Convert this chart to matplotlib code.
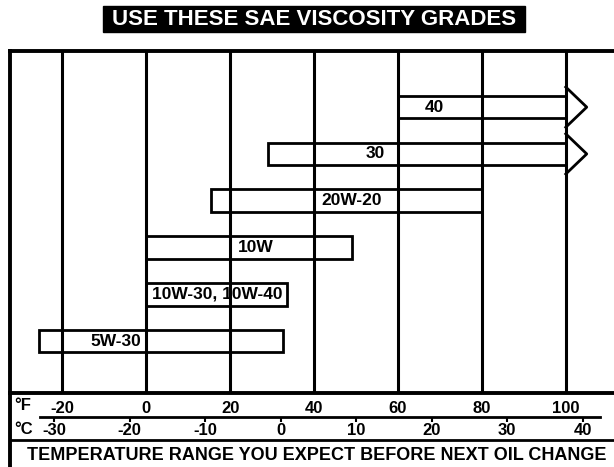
import matplotlib.pyplot as plt
from matplotlib.patches import Rectangle

plt.rcParams['font.family'] = ['Liberation Sans', 'DejaVu Sans']
plt.rcParams['font.weight'] = 'bold'
plt.rcParams['axes.unicode_minus'] = False

# viscosity grades, bottom to top, with the temperature span in deg F
grades = ['5W-30', '10W-30, 10W-40', '10W', '20W-20', '30', '40']
low_f = [-25.5, 0, 0, 15.5, 29, 60]
high_f = [32.5, 33.5, 49, 80, 100, 100]
open_end = [False, False, False, False, True, True]
label_f = [-7.2, 17, 26, 49, 54.5, 68.6]

f_ticks = [-20, 0, 20, 40, 60, 80, 100]
c_ticks = [-30, -20, -10, 0, 10, 20, 30, 40]

W, H = 614, 467
fig = plt.figure(figsize=(W / 100, H / 100), dpi=100)

# title box
fig.patches.append(Rectangle((103 / W, 1 - 32 / H), 422 / W, 26 / H,
                             transform=fig.transFigure, color='black'))
fig.text(314 / W, 1 - 19.5 / H, 'USE THESE SAE VISCOSITY GRADES', color='white',
         fontsize=16, fontweight='bold', ha='center', va='center')

ax = fig.add_axes([10 / W, (H - 393) / H, 604 / W, 342 / H])
ax.set_xlim(-32.5, 111.5)
ax.set_ylim(-0.11, 7.2)
ax.set_yticks([])
for s in ['top', 'bottom', 'left']:
    ax.spines[s].set_linewidth(2.8)
ax.spines['right'].set_visible(False)

for f in f_ticks:
    ax.axvline(f, color='black', lw=2.2, zorder=1)

ys = list(range(1, len(grades) + 1))
ax.barh(ys, [h - l for l, h in zip(low_f, high_f)], left=low_f, height=0.48,
        facecolor='none', edgecolor='black', lw=2, zorder=2)
for y, h, op in zip(ys, high_f, open_end):
    if op:
        ax.plot([h, h + 5, h], [y + 0.43, y, y - 0.43], color='black', lw=2,
                clip_on=False, zorder=3)
for y, x, g in zip(ys, label_f, grades):
    ax.text(x, y, g, ha='center', va='center', fontsize=12.5, fontweight='bold', zorder=4)

# Fahrenheit scale
ax.set_xticks(f_ticks)
ax.tick_params(axis='x', length=0, pad=6, labelsize=12)
for t in ax.get_xticklabels():
    t.set_fontweight('bold')

# Celsius scale
sec = ax.secondary_xaxis(-24 / 342, functions=(lambda f: (f - 32) / 1.8,
                                               lambda c: c * 1.8 + 32))
sec.set_xticks(c_ticks)
sec.spines['bottom'].set_linewidth(2)
sec.spines['bottom'].set_bounds(-31.9, 42.3)
sec.tick_params(axis='x', length=3.5, width=1.5, pad=1, labelsize=12)
for t in sec.get_xticklabels():
    t.set_fontweight('bold')

# frame lines of the lower panel
ax.plot([0, 1.01], [-47 / 342, -47 / 342], transform=ax.transAxes, color='black',
        lw=2, clip_on=False)
ax.plot([0, 0], [-74 / 342, 0], transform=ax.transAxes, color='black',
        lw=2.8, clip_on=False)

fig.text(14 / W, 1 - 406 / H, '°F', fontsize=12, fontweight='bold', va='center')
fig.text(14 / W, 1 - 430 / H, '°C', fontsize=12, fontweight='bold', va='center')
fig.text(317 / W, 1 - 455 / H, 'TEMPERATURE RANGE YOU EXPECT BEFORE NEXT OIL CHANGE',
         fontsize=13, fontweight='bold', ha='center', va='center')

fig.savefig('out.png', dpi=100)
